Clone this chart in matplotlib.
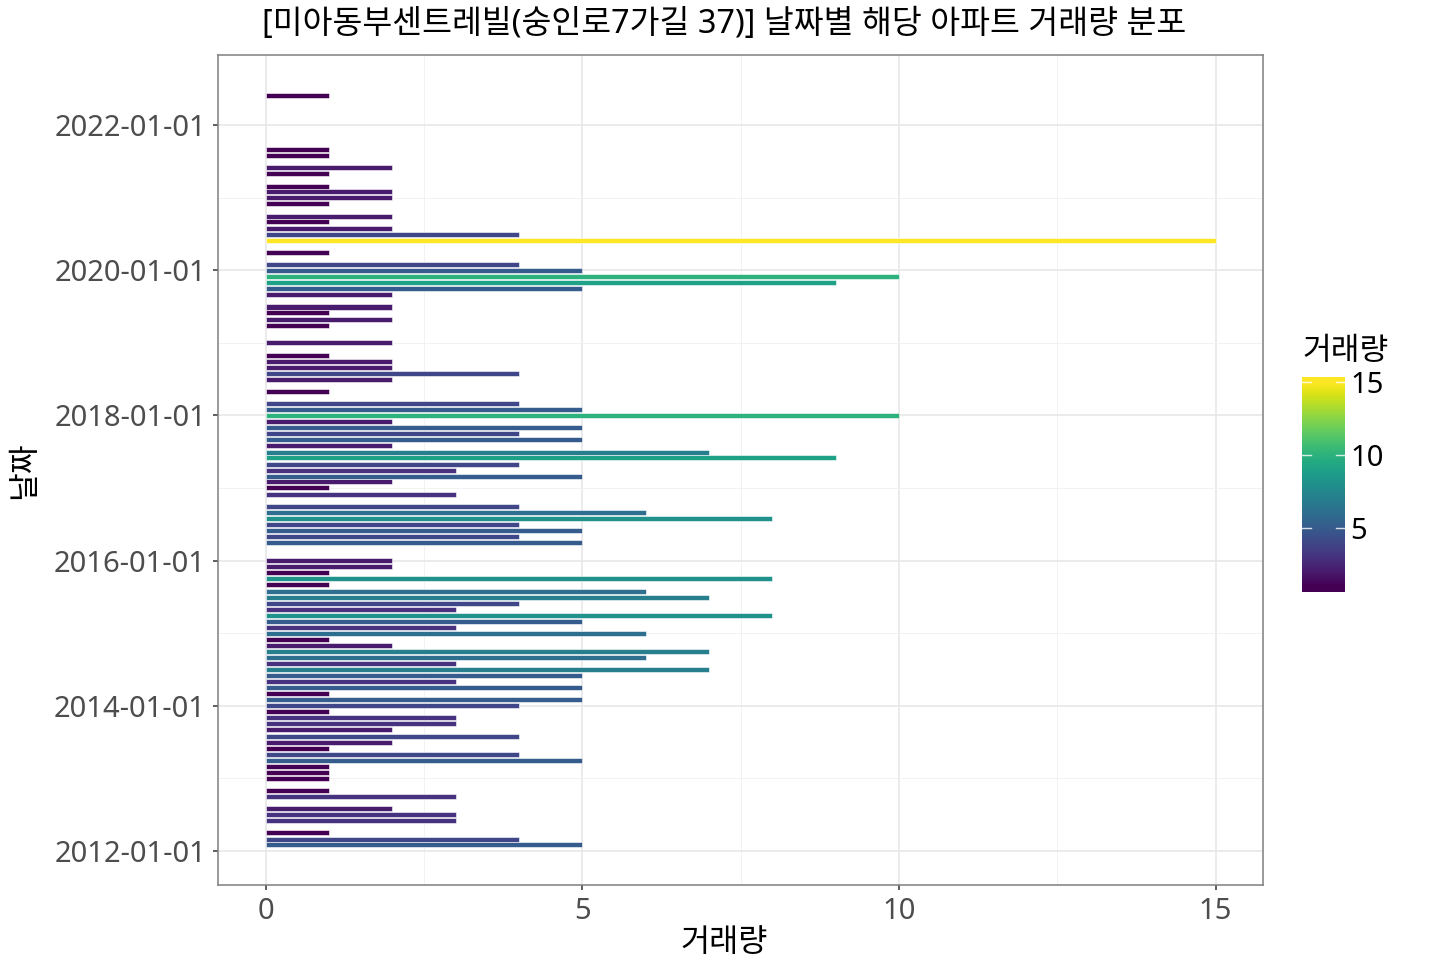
import datetime as dt
import numpy as np
import matplotlib
matplotlib.use("Agg")
import matplotlib.pyplot as plt
import matplotlib.dates as mdates
from matplotlib.colors import Normalize

plt.rcParams['font.family'] = ['Noto Sans', 'Noto Sans CJK KR', 'DejaVu Sans']

# ---- data ----
months = ["2012-02", "2012-03", "2012-04", "2012-06", "2012-07", "2012-08", "2012-10", "2012-11",
          "2013-01", "2013-02", "2013-03", "2013-04", "2013-05", "2013-06", "2013-07", "2013-08",
          "2013-09", "2013-10", "2013-11", "2013-12", "2014-01", "2014-02", "2014-03", "2014-04",
          "2014-05", "2014-06", "2014-07", "2014-08", "2014-09", "2014-10", "2014-11", "2014-12",
          "2015-01", "2015-02", "2015-03", "2015-04", "2015-05", "2015-06", "2015-07", "2015-08",
          "2015-09", "2015-10", "2015-11", "2015-12", "2016-01", "2016-04", "2016-05", "2016-06",
          "2016-07", "2016-08", "2016-09", "2016-10", "2016-12", "2017-01", "2017-02", "2017-03",
          "2017-04", "2017-05", "2017-06", "2017-07", "2017-08", "2017-09", "2017-10", "2017-11",
          "2017-12", "2018-01", "2018-02", "2018-03", "2018-05", "2018-07", "2018-08", "2018-09",
          "2018-10", "2018-11", "2019-01", "2019-04", "2019-05", "2019-06", "2019-07", "2019-09",
          "2019-10", "2019-11", "2019-12", "2020-01", "2020-02", "2020-04", "2020-06", "2020-07",
          "2020-08", "2020-09", "2020-10", "2020-12", "2021-01", "2021-02", "2021-03", "2021-05",
          "2021-06", "2021-08", "2021-09", "2022-06"]
counts = [5, 4, 1, 3, 3, 2, 3, 1,
          1, 1, 1, 5, 4, 1, 2, 4,
          2, 3, 3, 1, 4, 5, 1, 5,
          3, 5, 7, 3, 6, 7, 2, 1,
          6, 3, 5, 8, 3, 4, 7, 6,
          1, 8, 1, 2, 2, 5, 4, 5,
          4, 8, 6, 4, 3, 1, 2, 5,
          3, 4, 9, 7, 2, 5, 4, 5,
          2, 10, 5, 4, 1, 2, 4, 2,
          2, 1, 2, 1, 2, 1, 2, 2,
          5, 9, 10, 5, 4, 1, 15, 4,
          2, 1, 2, 1, 2, 2, 1, 1,
          2, 1, 1, 1]
x_ticks = [0, 5, 10, 15]
cbar_ticks = [5, 10, 15]
title = "[미아동부센트레빌(숭인로7가길 37)] 날짜별 해당 아파트 거래량 분포"
xlabel = "거래량"
ylabel = "날짜"
legend_title = "거래량"

# ---- figure ----
W, H = 1430, 977
fig = plt.figure(figsize=(W / 100, H / 100), dpi=100)
fig.patch.set_facecolor("white")

L, R, T, B = 218, 1263, 55, 885
ax = fig.add_axes([L / W, (H - B) / H, (R - L) / W, (B - T) / H])

dates = [dt.datetime.strptime(m + "-01", "%Y-%m-%d") for m in months]
ynum = mdates.date2num(dates)
bar_h = 0.9 * np.min(np.diff(ynum))

cmap = plt.get_cmap("viridis")
norm = Normalize(vmin=min(counts), vmax=max(counts))
colors = [cmap(norm(c)) for c in counts]

ax.barh(ynum, counts, height=bar_h, color=colors, edgecolor="white", linewidth=0.4, zorder=3)

# ticks
ax.set_xticks(x_ticks)
ax.set_xticks([2.5, 7.5, 12.5], minor=True)
ylo, yhi = ynum.min() - bar_h / 2, ynum.max() + bar_h / 2
yr = yhi - ylo
lim_lo, lim_hi = ylo - 0.05 * yr, yhi + 0.05 * yr
major_y = [mdates.date2num(dt.datetime(y, 1, 1)) for y in range(2012, 2024, 2)]
minor_y = [mdates.date2num(dt.datetime(y, 1, 1)) for y in range(2013, 2023, 2)]
major_y = [v for v in major_y if lim_lo <= v <= lim_hi]
minor_y = [v for v in minor_y if lim_lo <= v <= lim_hi]
ax.set_yticks(major_y)
ax.set_yticks(minor_y, minor=True)
ax.yaxis.set_major_formatter(mdates.DateFormatter("%Y-%m-%d"))

# limits (ggplot-like 5% expansion) set after ticks
xmin, xmax = 0, max(counts)
xr = xmax - xmin
ax.set_xlim(xmin - 0.05 * xr, xmax + 0.05 * xr)
ax.set_ylim(lim_lo, lim_hi)

ax.grid(which="major", color="#e6e6e6", linewidth=1.1, zorder=0)
ax.grid(which="minor", color="#f0f0f0", linewidth=0.6, zorder=0)
ax.set_axisbelow(True)

for s in ax.spines.values():
    s.set_color("#7f7f7f")
    s.set_linewidth(1.1)

ax.tick_params(which="major", length=3.6, width=1.1, color="#333333", labelcolor="#4d4d4d",
               labelsize=21, pad=5)
ax.tick_params(which="minor", length=0)

# titles (reference centres them slightly left of the panel centre)
cx = 724 / W
fig.text(cx, 1 - 943 / H, xlabel, fontsize=22.8, color="black", ha="center", va="center")
ax.set_ylabel(ylabel, fontsize=22.5, color="black", labelpad=10)
fig.text(cx, 1 - 25 / H, title, fontsize=23.4, color="black", ha="center", va="center")

# ---- colorbar ----
cb_l, cb_r, cb_t, cb_b = 1302, 1345, 376.7, 591.7
cax = fig.add_axes([cb_l / W, (H - cb_b) / H, (cb_r - cb_l) / W, (cb_b - cb_t) / H])
px_per_unit = 73 / 5
lo = 1 - (cb_b - 586.1) / px_per_unit
hi = 15 + (381.7 - cb_t) / px_per_unit
grad = np.linspace(lo, hi, 300).reshape(-1, 1)
cax.imshow(grad, aspect="auto", cmap=cmap, norm=norm, origin="lower",
           extent=[0, 1, lo, hi])
cax.set_xlim(0, 1)
cax.set_ylim(lo, hi)
for t in cbar_ticks:
    cax.plot([0, 0.2], [t, t], color="white", linewidth=1.0, alpha=0.8)
    cax.plot([0.8, 1], [t, t], color="white", linewidth=1.0, alpha=0.8)
cax.set_xticks([])
cax.yaxis.tick_right()
cax.set_yticks(cbar_ticks)
cax.tick_params(axis="y", length=0, labelsize=21, labelcolor="black", pad=4)
for s in cax.spines.values():
    s.set_visible(False)
fig.text(cb_l / W, 1 - 352 / H, legend_title, fontsize=22.5, ha="left", va="center")

fig.savefig("out.png", dpi=100)
